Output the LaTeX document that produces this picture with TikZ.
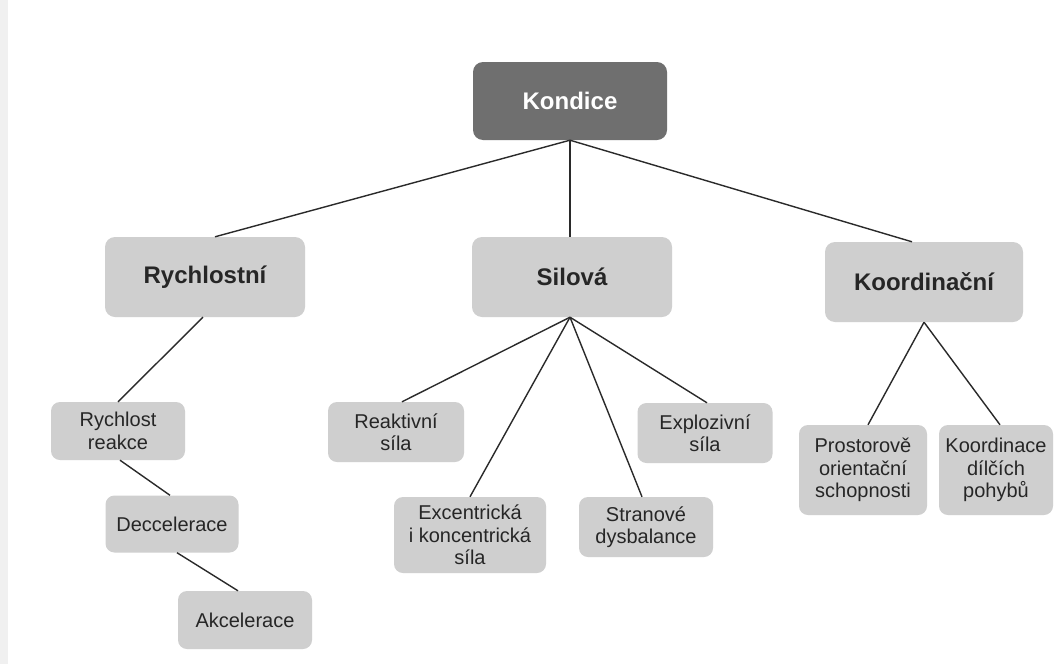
\documentclass[tikz,border=0pt]{standalone}
\usepackage{fontspec}
\setmainfont{Liberation Sans}
\definecolor{boxgray}{HTML}{CFCFCF}
\definecolor{topgray}{HTML}{6F6F6F}
\definecolor{linegray}{HTML}{2A2A2A}
\begin{document}
\begin{tikzpicture}[x=1pt,y=-1pt,
  topbox/.style={fill=topgray, rounded corners=10pt, text=white, font=\fontsize{24}{28}\selectfont\bfseries, minimum width=194pt, minimum height=78pt, inner sep=0pt},
  midbox/.style={fill=boxgray, rounded corners=10pt, text=black!85, font=\fontsize{24}{28}\selectfont\bfseries, minimum width=200pt, minimum height=80pt, inner sep=0pt},
  leaf/.style={fill=boxgray, rounded corners=9pt, text=black!85, font=\fontsize{20}{22.5}\selectfont, align=center, inner sep=0pt},
  conn/.style={draw=linegray, line width=1.4pt}]
\useasboundingbox (0,0) rectangle (1057,664);
\fill[white] (0,0) rectangle (1057,664);
\fill[black!6] (0,0) rectangle (8,664);
% nodes
\node[topbox] (kondice) at (570,101) {Kondice};
\node[midbox] (rych) at (205,277) {Rychlostní};
\node[midbox] (silova) at (572,277) {Silová};
\node[midbox, minimum width=198pt] (koord) at (924,282) {Koordinační};
\node[leaf, minimum width=134pt, minimum height=58pt] (reakce) at (118,431) {Rychlost\\reakce};
\node[leaf, minimum width=133pt, minimum height=57pt] (decc) at (172,524) {Deccelerace};
\node[leaf, minimum width=134pt, minimum height=58pt] (akc) at (245,620) {Akcelerace};
\node[leaf, minimum width=136pt, minimum height=60pt] (reakt) at (396,432) {Reaktivní\\síla};
\node[leaf, minimum width=152pt, minimum height=76pt] (excent) at (470,535) {Excentrická\\i koncentrická\\síla};
\node[leaf, minimum width=134pt, minimum height=60pt] (stran) at (646,527) {Stranové\\dysbalance};
\node[leaf, minimum width=135pt, minimum height=60pt] (exploz) at (705,433) {Explozivní\\síla};
\node[leaf, minimum width=128pt, minimum height=90pt] (prost) at (863,470) {Prostorově\\orientační\\schopnosti};
\node[leaf, minimum width=114pt, minimum height=90pt] (dilci) at (996,470) {Koordinace\\dílčích\\pohybů};
% connectors
\draw[conn] (kondice.south) -- ([xshift=10pt]rych.north);
\draw[conn] (kondice.south) -- (kondice.south |- silova.north);
\draw[conn] (kondice.south) -- ([xshift=-12pt]koord.north);
\draw[conn] ([xshift=-2pt]rych.south) -- (reakce.north);
\draw[conn] ([xshift=2pt]reakce.south) -- ([xshift=-2pt]decc.north);
\draw[conn] ([xshift=5pt]decc.south) -- ([xshift=-7pt]akc.north);
\draw[conn] ([xshift=-2pt]silova.south) -- ([xshift=6pt]reakt.north);
\draw[conn] ([xshift=-2pt]silova.south) -- (excent.north);
\draw[conn] ([xshift=-2pt]silova.south) -- ([xshift=-4pt]stran.north);
\draw[conn] ([xshift=-2pt]silova.south) -- ([xshift=2pt]exploz.north);
\draw[conn] (koord.south) -- ([xshift=5pt]prost.north);
\draw[conn] (koord.south) -- ([xshift=4pt]dilci.north);
\end{tikzpicture}
\end{document}
